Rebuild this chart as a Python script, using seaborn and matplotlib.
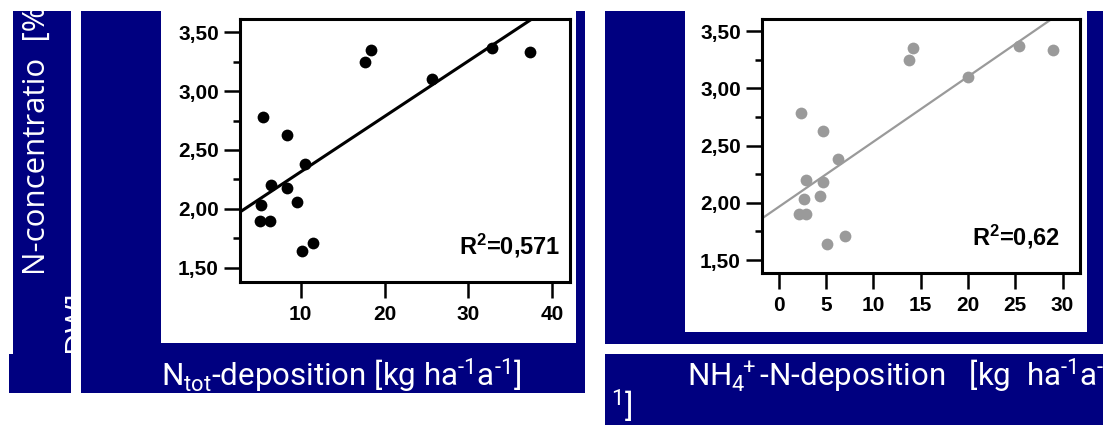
import numpy as np
import pandas as pd
import seaborn as sns
import matplotlib.pyplot as plt
from matplotlib.patches import Rectangle
from matplotlib.ticker import AutoMinorLocator
from matplotlib.transforms import Bbox, TransformedBbox

# N concentration in needles [% DW], same sites in both panels
n_conc = [2.78, 2.63, 2.38, 2.20, 2.18, 2.03, 2.06, 1.90, 1.90, 1.64, 1.71, 3.25, 3.35, 3.10, 3.37, 3.33]
# total N deposition [kg ha-1 a-1]
n_tot = [5.5, 8.4, 10.5, 6.5, 8.3, 5.2, 9.6, 5.1, 6.3, 10.2, 11.4, 17.7, 18.4, 25.7, 32.8, 37.4]
# NH4+-N deposition [kg ha-1 a-1]
nh4_n = [2.3, 4.7, 6.2, 2.9, 4.7, 2.6, 4.3, 2.1, 2.9, 5.1, 7.0, 13.8, 14.2, 20.0, 25.4, 29.0]

yticks = [1.5, 2.0, 2.5, 3.0, 3.5]
ytick_labels = ["1,50", "2,00", "2,50", "3,00", "3,50"]
xticks_tot = [10, 20, 30, 40]
xticks_nh4 = [0, 5, 10, 15, 20, 25, 30]
r2_tot = "0,571"
r2_nh4 = "0,62"

NAVY = "#000080"
GREY = "#9a9a9a"
W, H = 1103, 425
HY = "\u2010"  # plain hyphen inside mathtext superscripts

sns.set_style("ticks")
plt.rcParams["font.family"] = ["Roboto", "DejaVu Sans"]
plt.rcParams["text.color"] = "black"
plt.rcParams["mathtext.fontset"] = "custom"
plt.rcParams["mathtext.rm"] = "Roboto"
plt.rcParams["mathtext.it"] = "Roboto:italic"
plt.rcParams["mathtext.bf"] = "Liberation Sans:bold"
plt.rcParams["mathtext.fallback"] = "stixsans"


def box(x0, y0, x1, y1):
    """ pixel box (top-left origin) -> figure fraction [l, b, w, h] """
    return [x0 / W, 1 - y1 / H, (x1 - x0) / W, (y1 - y0) / H]


fig = plt.figure(figsize=(W / 100, H / 100), dpi=100)
fig.patch.set_facecolor("white")


def rect(x0, y0, x1, y1, color, z):
    l, b, w, h = box(x0, y0, x1, y1)
    fig.add_artist(Rectangle((l, b), w, h, transform=fig.transFigure,
                             facecolor=color, edgecolor="none", zorder=z))


def clipped_text(s, x, y, clip, **kw):
    t = fig.text(x / W, 1 - y / H, s, color="white", fontsize=22.5,
                 ha="left", va="baseline", **kw)
    l, b, w, h = box(*clip)
    t.set_clip_box(TransformedBbox(Bbox.from_bounds(l, b, w, h), fig.transFigure))
    t.set_clip_on(True)
    return t


# navy slide boxes and white picture panels
rect(13, 11, 71, 354, NAVY, -3)
rect(9, 354, 71, 393, NAVY, -3)
rect(81, 11, 585, 393, NAVY, -3)
rect(605, 11, 1103, 344, NAVY, -3)
rect(605, 354, 1103, 425, NAVY, -3)
rect(161, 0, 576, 343, "white", -2)
rect(685, 0, 1087, 332, "white", -2)

df = pd.DataFrame({"n_tot": n_tot, "nh4_n": nh4_n, "n_conc": n_conc})


def panel(pos, xcol, color, lw, xlim, ylim, xticks, r2, r2pos):
    ax = fig.add_axes(box(*pos))
    ax.set_facecolor("white")
    ax.set_xlim(*xlim)
    ax.set_ylim(*ylim)
    sns.regplot(data=df, x=xcol, y="n_conc", ax=ax, ci=None, truncate=False,
                scatter_kws=dict(s=72, color=color, linewidths=0, alpha=1),
                line_kws=dict(color=color, lw=lw))
    ax.set_xlim(*xlim)
    ax.set_ylim(*ylim)
    ax.set_xlabel("")
    ax.set_ylabel("")
    ax.set_yticks(yticks, labels=ytick_labels)
    ax.set_xticks(xticks, labels=[str(v) for v in xticks])
    ax.yaxis.set_minor_locator(AutoMinorLocator(2))
    for sp in ax.spines.values():
        sp.set_visible(True)
        sp.set_linewidth(2.2)
        sp.set_color("black")
    ax.tick_params(axis="both", which="major", direction="out", length=11.5,
                   width=1.8, color="black", labelcolor="black", pad=4)
    ax.tick_params(axis="x", pad=5)
    ax.tick_params(axis="y", which="minor", direction="out", length=5.4, width=1.8,
                   color="black")
    for lab in ax.get_xticklabels() + ax.get_yticklabels():
        lab.set_fontfamily("Liberation Sans")
        lab.set_fontweight("bold")
        lab.set_fontsize(15)
    ax.text(r2pos[0], r2pos[1], "R$^{\\mathbf{2}}$=" + r2, transform=ax.transAxes,
            ha="right", va="baseline", fontsize=17, fontweight="bold",
            family="Liberation Sans", color="black")
    return ax


panel((240.4, 19, 570, 281.7), "n_tot", "black", 2.2,
      (2.79, 42.15), (1.381, 3.613), xticks_tot, r2_tot, (0.97, 0.105))
panel((762.3, 19, 1080, 273.3), "nh4_n", GREY, 1.6,
      (-1.76, 31.84), (1.384, 3.605), xticks_nh4, r2_nh4, (0.937, 0.111))

# slide captions (cut off by their boxes like in the original)
ybox = (13, 11, 71, 354)
clipped_text("N-concentratio  [%", 45, 275, ybox, rotation=90, rotation_mode="anchor",
             family="Open Sans")
clipped_text("DW]", 85, 352, ybox, rotation=90, rotation_mode="anchor",
             family="Open Sans")
clipped_text(r"N$_{\mathrm{tot}}$-deposition [kg ha$^{%s1}$a$^{%s1}$]" % (HY, HY), 161, 386,
             (81, 11, 585, 393))
clipped_text(r"NH$_4$$^{\!\!+}$-N-deposition   [kg  ha$^{%s1}$a$^{%s1}$" % (HY, HY), 687, 386,
             (605, 354, 1103, 425))
clipped_text(r"$^1$]", 611, 417, (605, 354, 1103, 425))

fig.savefig("out.png", dpi=100)
